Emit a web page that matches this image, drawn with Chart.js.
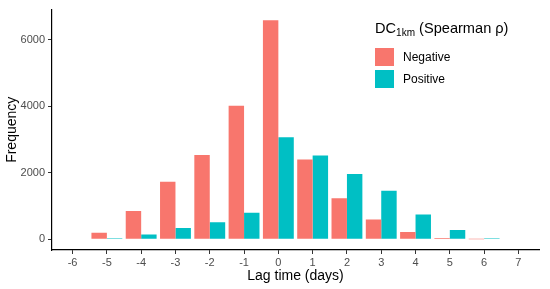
<!DOCTYPE html>
<html>
<head>
<meta charset="utf-8">
<script src="https://cdn.jsdelivr.net/npm/chart.js@4/dist/chart.umd.min.js"></script>
<style>
  body { margin: 0; background: #fff; }
  #wrap { position: relative; width: 550px; height: 289px; font-family: "Liberation Sans", Arial, sans-serif; }
  #legend { position: absolute; left: 375px; top: 20px; color: #000; }
  #legend .ttl { font-size: 14.6px; white-space: nowrap; }
  #legend .ttl sub { font-size: 10px; vertical-align: -3px; }
  #legend .row { display: flex; align-items: center; height: 22px; font-size: 12px; }
  #legend .key { width: 19px; height: 18px; margin-right: 9px; }
</style>
</head>
<body>
<div id="wrap">
  <canvas id="chart" width="550" height="289"></canvas>
  <div id="legend">
    <div class="ttl" style="margin-bottom:8px">DC<sub>1km</sub> (Spearman ρ)</div>
    <div class="row"><span class="key" style="background:#F8766D"></span>Negative</div>
    <div class="row"><span class="key" style="background:#00BFC4"></span>Positive</div>
  </div>
</div>
<script>
// lag time categories (days)
const lags = [-6, -5, -4, -3, -2, -1, 0, 1, 2, 3, 4, 5, 6, 7];
// frequencies
const negative = [15, 200, 850, 1730, 2540, 4020, 6590, 2400, 1235, 600, 225, 40, 5, 0];
const positive = [0, 30, 148, 345, 512, 800, 3070, 2525, 1965, 1460, 750, 285, 30, 0];
const yTicks = [0, 2000, 4000, 6000];

const tickFont = { family: "Liberation Sans", size: 11 };

new Chart(document.getElementById('chart'), {
    type: 'bar',
    data: {
        datasets: [
            { label: 'Negative', data: lags.map((x, i) => ({ x: x, y: negative[i] })), backgroundColor: '#F8766D' },
            { label: 'Positive', data: lags.map((x, i) => ({ x: x, y: positive[i] })), backgroundColor: '#00BFC4' }
        ]
    },
    options: {
        responsive: false,
        animation: false,
        categoryPercentage: 0.9,
        barPercentage: 1.0,
        layout: { padding: { top: 6, right: 11, left: 4, bottom: 0 } },
        plugins: { legend: { display: false }, tooltip: { enabled: false } },
        scales: {
            x: {
                type: 'linear',
                offset: false,
                min: -6.6,
                max: 7.6,
                afterBuildTicks: s => { s.ticks = lags.map(v => ({ value: v })); },
                afterFit: s => { s.height = 39; },
                grid: { offset: false, drawOnChartArea: false, tickLength: 4, color: '#333' },
                border: { color: '#000', width: 1.2 },
                ticks: { font: tickFont, color: '#4D4D4D', padding: 2, maxRotation: 0, callback: v => String(v) },
                title: { display: true, text: 'Lag time (days)', font: { family: "Liberation Sans", size: 14 }, color: '#000', padding: { top: 0 } }
            },
            y: {
                min: -320,
                max: 6910,
                afterBuildTicks: s => { s.ticks = yTicks.map(v => ({ value: v })); },
                afterFit: s => { s.width = 48; },
                grid: { drawOnChartArea: false, tickLength: 4, color: '#333' },
                border: { color: '#000', width: 1.2 },
                ticks: { font: tickFont, color: '#4D4D4D', padding: 3, callback: v => String(v) },
                title: { display: true, text: 'Frequency', font: { family: "Liberation Sans", size: 14 }, color: '#000', padding: { top: 0, bottom: 0 } }
            }
        }
    }
});
</script>
</body>
</html>
